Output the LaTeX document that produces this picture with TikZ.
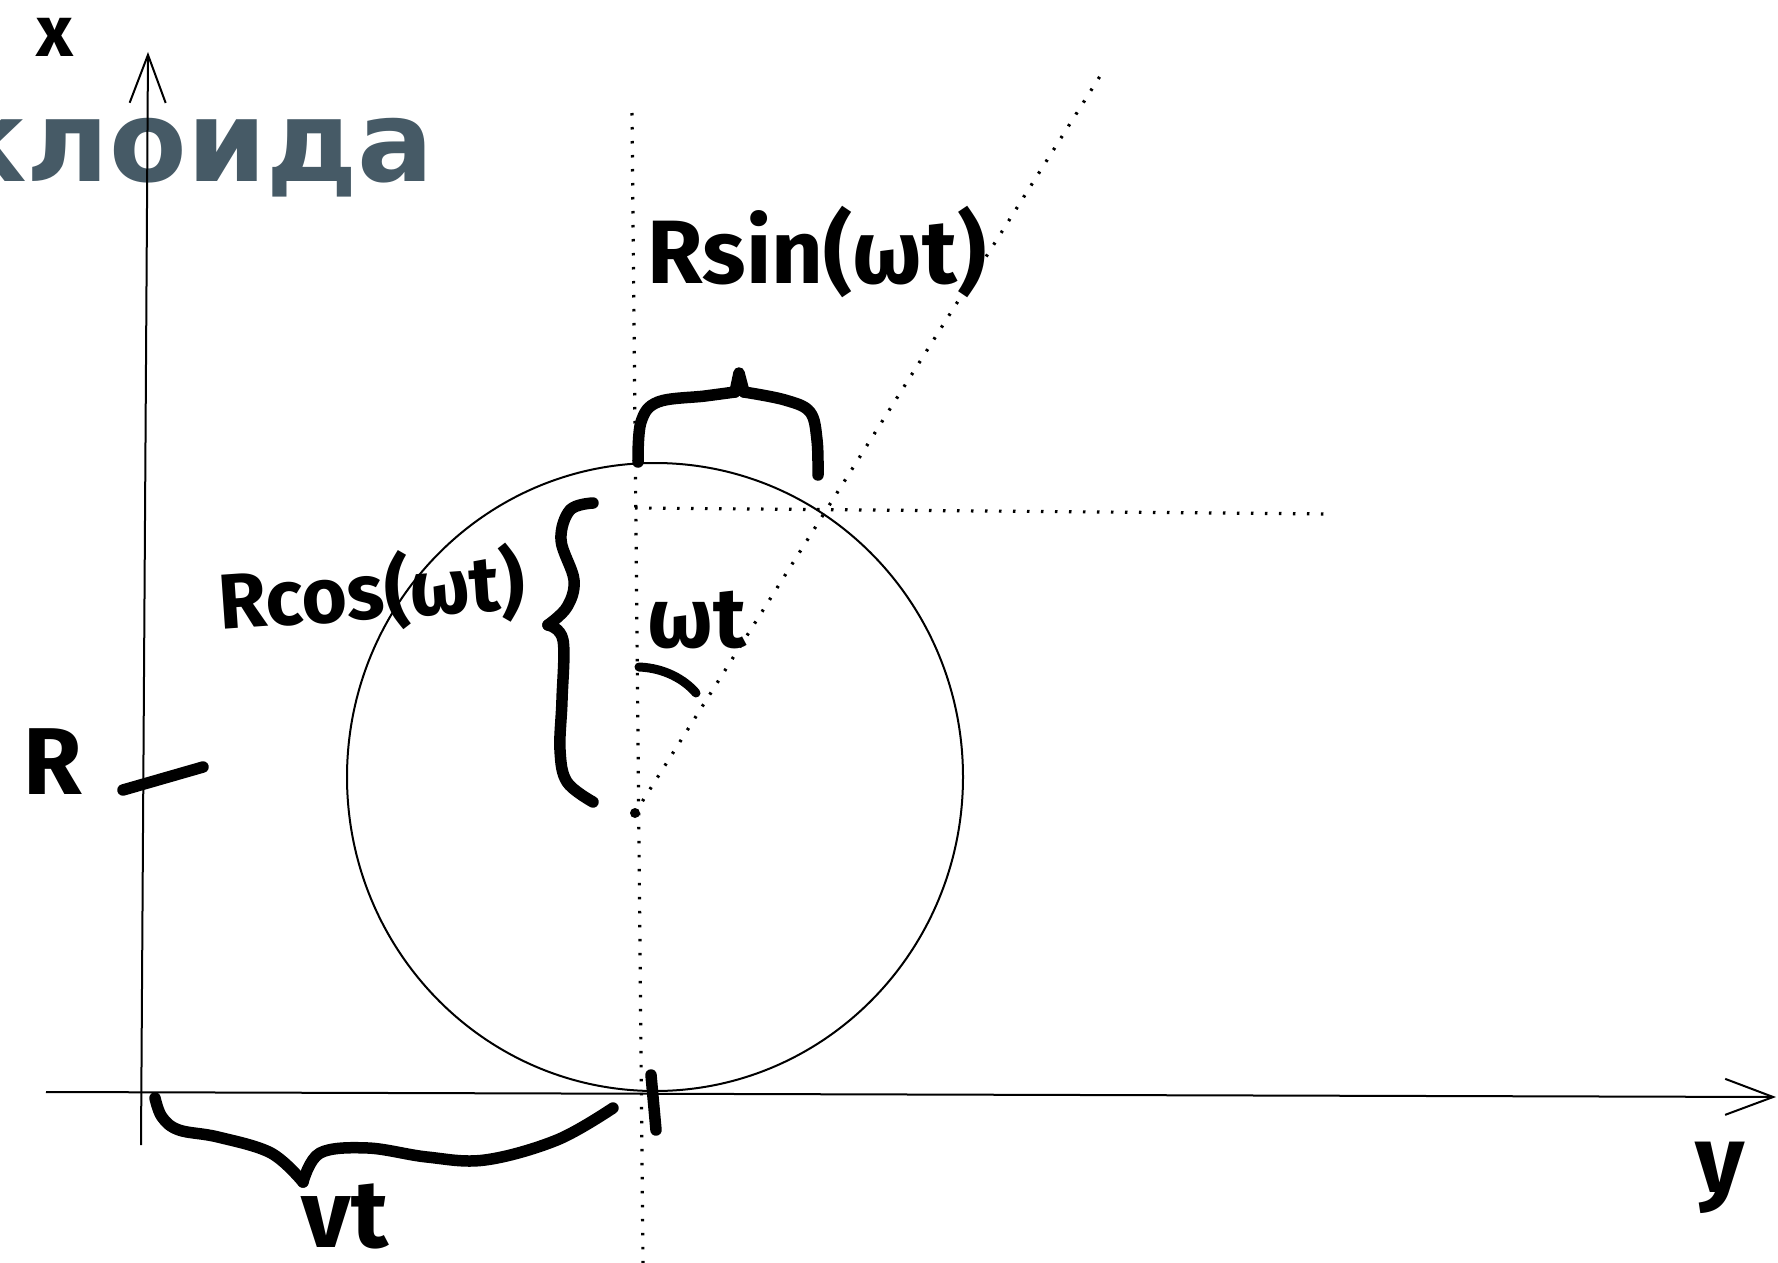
\documentclass[tikz,border=0pt]{standalone}
\usepackage{fontspec}
\newfontfamily\titlefont{DejaVu Sans}
\newfontfamily\handfont{Fira Sans}
\usetikzlibrary{arrows.meta}
\definecolor{slate}{RGB}{70,90,102}

\begin{document}
\begin{tikzpicture}[
  x=1pt, y=-1pt,
  axis/.style={line width=2pt, -{Straight Barb[length=48pt, width=36pt, line width=2pt]}},
  guide/.style={line width=3.2pt, dash pattern=on 2.5pt off 11.5pt},
  thin/.style={line width=2pt},
  marker/.style={line width=11.5pt, line cap=round, line join=round},
  hand/.style={font=\handfont\bfseries\fontsize{#1}{#1}\selectfont, inner sep=0pt}
]
\useasboundingbox (0,0) rectangle (1778,1263);
\clip (0,0) rectangle (1778,1263);

% title, cut at the left edge
\node[anchor=base east, inner sep=0pt, text=slate, font=\titlefont\bfseries\fontsize{113}{113}\selectfont] (title) at (434,181) {клоида};

% points
\coordinate (O) at (141,1145);
\coordinate (xtip) at (148,52);
\coordinate (ystart) at (46,1092);
\coordinate (ytip) at (1776,1097);
\coordinate (M) at (635,813);
\coordinate (vtop) at (632,113);
\coordinate (vbot) at (643,1263);
\coordinate (slant) at (1102,73);
\coordinate (hstart) at (635,508);
\coordinate (hend) at (1333,514);

% dotted guides
\draw[guide] (vtop) -- (vbot);
\draw[guide] (M) -- (slant);
\draw[guide] (hstart) -- (hend);

% wheel
\draw[thin] (655,777) ellipse [x radius=308, y radius=314];
\fill (M) circle (5);

% axes
\draw[axis] (O) -- (xtip);
\draw[axis] (ystart) -- (ytip);

% braces and ticks
\draw[marker] plot[smooth, tension=0.6] coordinates {(638,462) (641,422) (658,402) (705,396) (735,392)};
\draw[marker] (735,392) -- (739,373) -- (744,392);
\draw[marker] plot[smooth, tension=0.6] coordinates {(744,392) (785,400) (810,412) (817,440) (818,475)};

\draw[marker] plot[smooth, tension=0.6] coordinates {(593,503) (570,510) (561,540) (574,580) (567,607) (548,625)};
\draw[marker] plot[smooth, tension=0.6] coordinates {(548,625) (563,640) (562,700) (560,750) (567,782) (593,802)};

\draw[marker] plot[smooth, tension=0.6] coordinates {(155,1098) (162,1117) (179,1130) (218,1137) (271,1153) (303,1182)};
\draw[marker] plot[smooth, tension=0.6] coordinates {(303,1182) (320,1153) (368,1148) (427,1157) (485,1160) (557,1140) (613,1108)};

\draw[marker] (651,1075) -- (656,1130);
\draw[marker] (123,790) -- (203,767);
\draw[marker, line width=9pt] (639,667) .. controls (665,668) and (685,680) .. (696,693);

% labels
\node[hand=72] (xlab) at (55,37) {x};
\node[hand=95] (ylab) at (1720,1178) {y};
\node[hand=95] (rlab) at (53,762) {R};
\node[hand=90] (rsinlab) at (817,252) {Rsin(ωt)};
\node[hand=78, rotate=4] (rcoslab) at (372,592) {Rcos(ωt)};
\node[hand=85] (wtlab) at (697,620) {ωt};
\node[hand=96] (vtlab) at (345,1216) {vt};
\end{tikzpicture}
\end{document}
